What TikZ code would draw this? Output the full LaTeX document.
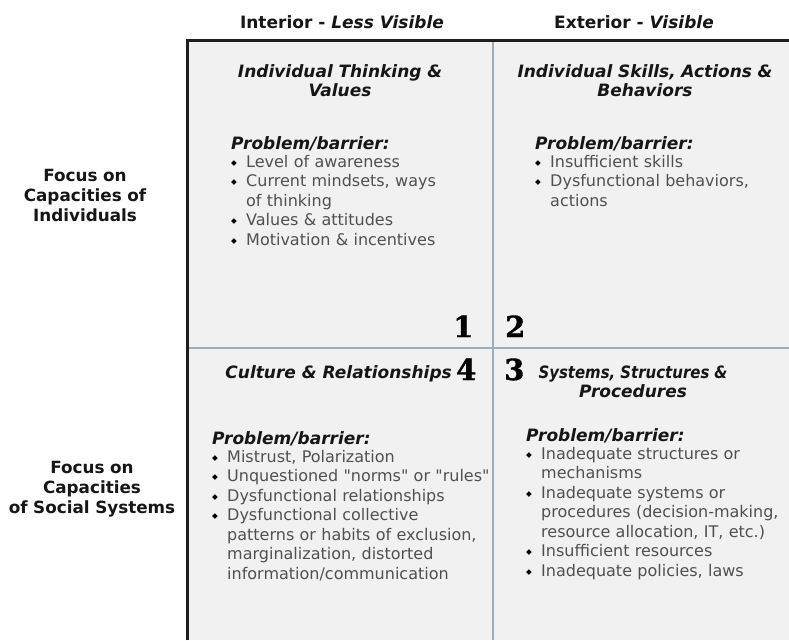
\documentclass[tikz,border=0pt]{standalone}
\usepackage{fontspec}
\usepackage{graphicx}
\setmainfont{DejaVu Sans}
\newfontfamily\numfont{DejaVu Serif}[BoldFeatures={FakeBold=1.2}]
\definecolor{fillg}{HTML}{F1F1F1}
\definecolor{divc}{HTML}{9AAEC0}
\definecolor{listc}{HTML}{505050}
\definecolor{headc}{HTML}{161616}
\definecolor{framec}{HTML}{1E1E1E}
\newcommand\bitem{\makebox[15pt][l]{\raisebox{1.8pt}{\color{black}\fontsize{7.5}{6}\selectfont ◆}}}
\newcommand\contline{\hspace*{15pt}}
\newcommand\probhead{{\color{headc}\bfseries\itshape\fontsize{17}{19.5}\selectfont Problem/barrier:}\\[-1.5pt]}
\begin{document}
\begin{tikzpicture}[x=1pt,y=-1pt,
  colhead/.style={font=\bfseries\fontsize{17}{20}\selectfont, text=headc, inner sep=0pt, anchor=base},
  rowlab/.style={text width=200pt, font=\bfseries\fontsize{16.8}{20}\selectfont, align=center, text=headc, inner sep=0pt, anchor=base},
  quadtitle/.style={text width=300pt, font=\bfseries\itshape\fontsize{17}{19.5}\selectfont, align=center, text=headc, inner sep=0pt, anchor=base},
  listblock/.style={text width=300pt, align=left, inner sep=0pt, anchor=base west, font=\fontsize{16}{19.5}\selectfont, text=listc},
  num/.style={font=\numfont\bfseries\fontsize{29}{29}\selectfont, text=black, inner sep=0pt, anchor=base west},
  divider/.style={draw=divc, line width=2.4pt},
  frame/.style={draw=framec, line width=3pt}]
\useasboundingbox (0,0) rectangle (789,640);
\fill[fillg] (187,40) rectangle (789,640);
% dividers
\coordinate (vt) at (493,41);
\coordinate (vb) at (493,640);
\coordinate (hl) at (188,348);
\coordinate (hr) at (789,348);
\draw[divider] (vt) -- (vb);
\draw[divider] (hl) -- (hr);
% frame
\coordinate (tl) at (187,40);
\coordinate (tr) at (789,40);
\coordinate (bl) at (187,640);
\draw[frame] (bl) -- (tl) -- (tr);
% column headings
\node[colhead] (interior) at (342,28) {Interior - \textit{Less Visible}};
\node[colhead] (exterior) at (634,28) {Exterior - \textit{Visible}};
% row labels
\node[rowlab] (rowind) at (85,181) {Focus on\\Capacities of\\Individuals};
\node[rowlab] (rowsoc) at (92,473) {Focus on\\Capacities\\of Social Systems};
% quadrant titles
\node[quadtitle] (q1t) at (340,77) {Individual Thinking \&\\Values};
\node[quadtitle] (q2t) at (645,77) {Individual Skills, Actions \&\\Behaviors};
\node[quadtitle, anchor=base east, text width=, align=right] (q4t) at (452,378) {Culture \& Relationships};
\node[quadtitle] (q3t) at (633,378) {\scalebox{0.88}[1]{Systems, Structures \&}\\Procedures};
% numbers
\node[num] (n1) at (453,337) {1};
\node[num] (n2) at (505,337) {2};
\node[num] (n4) at (456,380) {4};
\node[num] (n3) at (504,380) {3};
% lists
\node[listblock] (q1l) at (231,149) {\probhead
\bitem Level of awareness\\
\bitem Current mindsets, ways\\
\contline of thinking\\
\bitem Values \& attitudes\\
\bitem Motivation \& incentives};
\node[listblock] (q2l) at (535,149) {\probhead
\bitem Insufficient skills\\
\bitem Dysfunctional behaviors,\\
\contline actions};
\node[listblock] (q4l) at (212,444) {\probhead
\bitem Mistrust, Polarization\\
\bitem Unquestioned \textquotedbl norms\textquotedbl{} or \textquotedbl rules\textquotedbl\\
\bitem Dysfunctional relationships\\
\bitem Dysfunctional collective\\
\contline patterns or habits of exclusion,\\
\contline marginalization, distorted\\
\contline information/communication};
\node[listblock] (q3l) at (526,441) {\probhead
\bitem Inadequate structures or\\
\contline mechanisms\\
\bitem Inadequate systems or\\
\contline procedures (decision-making,\\
\contline resource allocation, IT, etc.)\\
\bitem Insufficient resources\\
\bitem Inadequate policies, laws};
\end{tikzpicture}
\end{document}
